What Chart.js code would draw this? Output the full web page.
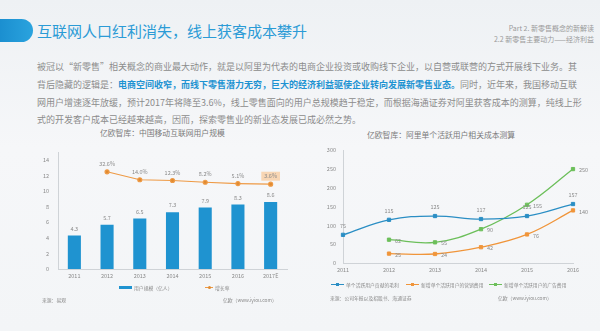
<!DOCTYPE html>
<html>
<head>
<meta charset="utf-8">
<script src="https://cdn.jsdelivr.net/npm/chart.js@4"></script>
<style>
  html, body { margin: 0; padding: 0; }
  body {
    width: 600px; height: 331px; position: relative; overflow: hidden;
    background: linear-gradient(180deg, #eef1f4 0%, #f6f7f9 45%, #f3f5f7 100%);
    font-family: 'Noto Sans CJK SC', 'Noto Sans', sans-serif;
  }
  .abs { position: absolute; white-space: nowrap; }
  #tab { left: 0; top: 19px; width: 33px; height: 23px; border-radius: 0 12px 12px 0;
    background: linear-gradient(90deg, #1b8fd0, #2aa3de); }
  #title { left: 37px; top: 21px; font-size: 15px; line-height: 20px; color: #2b9bd6; }
  .part { right: 6px; font-size: 7px; line-height: 9px; color: #9a9a9a; text-align: right; }
  .para { left: 37px; width: 532px; font-size: 9px; line-height: 12px; color: #8c8c8c; }
  .just { text-align: justify; text-align-last: justify; }
  .para b { color: #1e93d2; font-weight: bold; }
  .ctitle { font-size: 7.8px; line-height: 10px; color: #7a7a7a; }
  .small { font-size: 4.8px; line-height: 7px; color: #8a8a8a; }
  .sw { display: inline-block; vertical-align: middle; position: relative; margin-right: 1px; }
  .dot { position: absolute; left: 50%; top: 50%; width: 3px; height: 3px; margin: -1.5px 0 0 -1.5px; border-radius: 50%; }
  canvas { position: absolute; }
</style>
</head>
<body>
<div class="abs" id="tab"></div>
<div class="abs" id="title">互联网人口红利消失，线上获客成本攀升</div>
<div class="abs part" style="top:24px">Part 2. 新零售概念的新解读</div>
<div class="abs part" style="top:35px">2.2 新零售主要动力——经济利益</div>

<div class="abs para just" style="top:61px">被冠以“新零售”相关概念的商业最大动作，就是以阿里为代表的电商企业投资或收购线下企业，以自营或联营的方式开展线下业务。其</div>
<div class="abs para just" style="top:79px">背后隐藏的逻辑是：<b>电商空间收窄，而线下零售潜力无穷，巨大的经济利益驱使企业转向发展新零售业态。</b>同时，近年来，我国移动互联</div>
<div class="abs para just" style="top:97px">网用户增速逐年放缓，预计2017年将降至3.6%，线上零售面向的用户总规模趋于稳定，而根据海通证券对阿里获客成本的测算，纯线上形</div>
<div class="abs para" style="top:114px">式的开发客户成本已经越来越高，因而，探索零售业的新业态发展已成必然之势。</div>

<div class="abs ctitle" style="left:100px;top:128px">亿欧智库：中国移动互联网用户规模</div>
<div class="abs ctitle" style="left:367px;top:130px">亿欧智库：阿里单个活跃用户相关成本测算</div>

<canvas id="left" width="300" height="145" style="left:0;top:140px"></canvas>
<canvas id="right" width="300" height="140" style="left:300px;top:140px"></canvas>

<!-- legends -->
<div class="abs small" style="left:119px;top:284px"><span class="sw" style="width:13px;height:3px;background:#1f93d0;top:-1px"></span> 用户规模（亿人）</div>
<div class="abs small" style="left:205px;top:284px"><span class="sw" style="width:8px;height:1px;background:#ee9a45;top:-1px"><span class="dot" style="background:#e08a30"></span></span> 增长率</div>
<div class="abs small" style="left:42px;top:296px">来源：易观</div>
<div class="abs small" style="left:223px;top:296px">亿欧（www.iyiou.com）</div>

<div class="abs small" style="left:331px;top:281px"><span class="sw" style="width:13px;height:1px;background:#2a8ec4;top:-1px"><span class="dot" style="background:#2a8ec4;border-radius:0"></span></span> 单个活跃用户贡献的毛利</div>
<div class="abs small" style="left:406px;top:281px"><span class="sw" style="width:13px;height:1px;background:#f0953a;top:-1px"><span class="dot" style="background:#f0953a;border-radius:0"></span></span> 新增单个活跃用户的营销费用</div>
<div class="abs small" style="left:489px;top:281px"><span class="sw" style="width:13px;height:1px;background:#6cbf5a;top:-1px"><span class="dot" style="background:#6cbf5a;border-radius:0"></span></span> 新增单个活跃用户的广告费用</div>
<div class="abs small" style="left:330px;top:294px">来源：公司年报以及招股书、海通证券</div>
<div class="abs small" style="left:498px;top:294px">亿欧（www.iyiou.com）</div>

<script>
// 左图：中国移动互联网用户规模
const years1 = ['2011', '2012', '2013', '2014', '2015', '2016', '2017E'];
const users = [4.3, 5.7, 6.5, 7.3, 7.9, 8.3, 8.6];
const growth = [null, 32.6, 14.0, 12.3, 8.2, 5.1, 3.6];

// 右图：阿里单个活跃用户相关成本
const years2 = ['2011', '2012', '2013', '2014', '2015', '2016'];
const grossProfit = [75, 115, 125, 117, 125, 157];
const marketingCost = [null, 25, 24, 42, 76, 140];
const adCost = [null, 62, 55, 90, 155, 250];

Chart.defaults.font.family = "'Noto Sans CJK SC', 'Noto Sans', sans-serif";
Chart.defaults.color = '#8a8a8a';

// dessine les valeurs à côté des points
const valueLabels = {
    id: 'valueLabels',
    afterDatasetsDraw(chart) {
        const ctx = chart.ctx;
        chart.data.datasets.forEach((ds, i) => {
            const meta = chart.getDatasetMeta(i);
            const pos = ds.labelPos || { dx: 0, dy: -8, align: 'center' };
            meta.data.forEach((el, j) => {
                const v = ds.data[j];
                if (v === null || v === undefined) return;
                let txt = ds.suffix ? v.toFixed(1) + ds.suffix : String(v);
                let x = el.x + pos.dx, y = el.y + pos.dy;
                ctx.save();
                ctx.font = '5.5px ' + Chart.defaults.font.family;
                ctx.textAlign = pos.align;
                ctx.textBaseline = 'middle';
                if (ds.highlightLast && j === ds.data.length - 1) {
                    let w = ctx.measureText(txt).width;
                    ctx.fillStyle = '#f8d6b4';
                    ctx.fillRect(x - w / 2 - 3, y - 4.5, w + 6, 9);
                }
                ctx.fillStyle = '#8a8a8a';
                ctx.fillText(txt, x, y);
                ctx.restore();
            });
        });
    }
};

new Chart(document.getElementById('left'), {
    type: 'bar',
    data: {
        labels: years1,
        datasets: [{
            type: 'line',
            label: '增长率',
            data: growth,
            yAxisID: 'y2',
            borderColor: '#ee9a45',
            backgroundColor: '#e08a30',
            borderWidth: 1.2,
            pointRadius: 2,
            pointStyle: 'circle',
            suffix: '%',
            highlightLast: true,
            labelPos: { dx: 0, dy: -8, align: 'center' }
        }, {
            label: '用户规模（亿人）',
            data: users,
            backgroundColor: '#1f93d0',
            barPercentage: 0.4,
            categoryPercentage: 1,
            labelPos: { dx: 0, dy: -7, align: 'center' }
        }]
    },
    options: {
        responsive: false,
        animation: false,
        layout: { padding: { top: 7, right: 13, bottom: 4, left: 0 } },
        plugins: { legend: { display: false }, tooltip: { enabled: false } },
        scales: {
            x: {
                grid: { display: false, drawTicks: false },
                border: { display: true, color: '#cfd3d7' },
                ticks: { font: { size: 5.5 }, padding: 4, color: '#8a8a8a' },
                afterFit(scale) { scale.height = 12; }
            },
            y: {
                min: 0, max: 15,
                grid: { display: false, drawTicks: false },
                border: { display: true, color: '#cfd3d7' },
                ticks: { stepSize: 2, includeBounds: false, font: { size: 5.5 }, padding: 9, color: '#8a8a8a' },
                afterFit(scale) { scale.width = 58; }
            },
            y2: {
                display: false,
                min: -194, max: 78
            }
        }
    },
    plugins: [valueLabels]
});

new Chart(document.getElementById('right'), {
    type: 'line',
    data: {
        labels: years2,
        datasets: [{
            label: '单个活跃用户贡献的毛利',
            data: grossProfit,
            borderColor: '#2a8ec4',
            backgroundColor: '#2a8ec4',
            labelPos: { dx: 0, dy: -9, align: 'center' }
        }, {
            label: '新增单个活跃用户的营销费用',
            data: marketingCost,
            borderColor: '#f0953a',
            backgroundColor: '#f0953a',
            labelPos: { dx: 6, dy: 1, align: 'left' }
        }, {
            label: '新增单个活跃用户的广告费用',
            data: adCost,
            borderColor: '#6cbf5a',
            backgroundColor: '#6cbf5a',
            labelPos: { dx: 6, dy: 1, align: 'left' }
        }]
    },
    options: {
        responsive: false,
        animation: false,
        elements: {
            line: { tension: 0.4, borderWidth: 1.3 },
            point: { radius: 2.3, pointStyle: 'rect' }
        },
        layout: { padding: { top: 7, right: 27, bottom: 5, left: 0 } },
        plugins: { legend: { display: false }, tooltip: { enabled: false } },
        scales: {
            x: {
                grid: { display: false, drawTicks: false },
                border: { display: true, color: '#cfd3d7' },
                ticks: { font: { size: 5.5 }, padding: 4, color: '#8a8a8a' },
                afterFit(scale) { scale.height = 12; }
            },
            y: {
                min: 0, max: 300,
                grid: { display: false, drawTicks: false },
                border: { display: true, color: '#cfd3d7' },
                ticks: { stepSize: 50, font: { size: 5.5 }, padding: 7, color: '#8a8a8a' },
                afterFit(scale) { scale.width = 43; }
            }
        }
    },
    plugins: [valueLabels]
});
</script>
</body>
</html>
